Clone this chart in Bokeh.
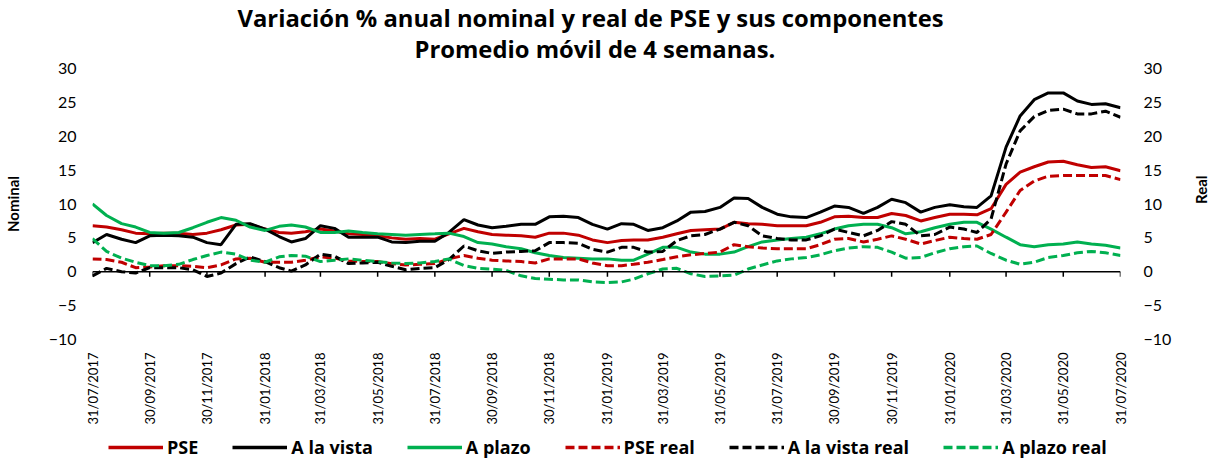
import pandas as pd
from bokeh.plotting import figure
from bokeh.layouts import column
from bokeh.models import (Range1d, LinearAxis, FixedTicker, Span, Legend,
                          LegendItem, ColumnDataSource, Title)
from bokeh.embed import file_html
from bokeh.resources import INLINE

# ---------------- data (semi-monthly readings, 31/07/2017 .. 31/07/2020) -------------
tick_labels = ["31/07/2017", "30/09/2017", "30/11/2017", "31/01/2018", "31/03/2018",
               "31/05/2018", "31/07/2018", "30/09/2018", "30/11/2018", "31/01/2019",
               "31/03/2019", "31/05/2019", "31/07/2019", "30/09/2019", "30/11/2019",
               "31/01/2020", "31/03/2020", "31/05/2020", "31/07/2020"]

month_ends = pd.date_range("2017-07-31", "2020-07-31", freq="ME")
mid_months = pd.date_range("2017-08-01", "2020-07-01", freq="MS") + pd.Timedelta(days=14)
dates = month_ends.append(mid_months).sort_values()

pse = [6.8, 6.6, 6.2, 5.7, 5.6, 5.7, 5.7, 5.5, 5.7, 6.2, 6.9, 7.0, 6.3,
       5.8, 5.7, 5.9, 6.3, 6.0, 5.6, 5.5, 5.3, 5.0, 4.8, 4.9, 4.8,
       5.6, 6.4, 5.9, 5.5, 5.4, 5.3, 5.1, 5.7, 5.7, 5.4, 4.7, 4.3,
       4.6, 4.7, 4.7, 5.1, 5.6, 6.1, 6.2, 6.3, 7.3, 7.1, 7.0, 6.8,
       6.8, 6.8, 7.3, 8.1, 8.2, 8.0, 8.0, 8.6, 8.3, 7.5, 8.0, 8.5,
       8.5, 8.4, 9.3, 12.9, 14.7, 15.5, 16.2, 16.3, 15.8, 15.4, 15.5, 14.9]

a_la_vista = [4.3, 5.5, 4.8, 4.3, 5.3, 5.4, 5.3, 5.1, 4.3, 4.0, 7.0, 7.1, 6.3,
              5.2, 4.4, 4.9, 6.8, 6.4, 5.1, 5.1, 5.1, 4.4, 4.3, 4.5, 4.5,
              5.8, 7.7, 6.9, 6.5, 6.7, 7.0, 7.0, 8.1, 8.2, 8.0, 7.0, 6.3,
              7.1, 7.0, 6.1, 6.5, 7.5, 8.8, 8.9, 9.5, 10.9, 10.8, 9.5, 8.5,
              8.1, 8.0, 8.8, 9.7, 9.5, 8.6, 9.5, 10.7, 10.2, 8.8, 9.5, 9.9,
              9.6, 9.5, 11.2, 18.4, 23.0, 25.4, 26.4, 26.4, 25.2, 24.7, 24.8, 24.2]

a_plazo = [10.0, 8.3, 7.1, 6.6, 5.8, 5.7, 5.8, 6.5, 7.3, 8.0, 7.6, 6.6, 6.1,
           6.7, 6.9, 6.6, 5.8, 5.8, 6.0, 5.8, 5.6, 5.5, 5.4, 5.5, 5.6,
           5.7, 5.2, 4.3, 4.1, 3.7, 3.4, 2.8, 2.4, 2.1, 2.0, 1.9, 1.9,
           1.7, 1.7, 2.6, 3.6, 3.6, 2.9, 2.6, 2.6, 2.9, 3.7, 4.4, 4.7,
           4.9, 5.1, 5.6, 6.3, 6.8, 7.0, 7.0, 6.5, 5.6, 5.9, 6.5, 7.0,
           7.3, 7.3, 6.3, 5.1, 4.0, 3.7, 4.0, 4.1, 4.4, 4.1, 3.9, 3.5]

pse_real = [1.9, 1.8, 1.4, 0.6, 0.7, 0.9, 0.9, 0.8, 0.6, 1.0, 1.9, 2.0, 1.4,
            1.4, 1.4, 1.7, 2.2, 2.0, 1.6, 1.5, 1.5, 1.2, 1.0, 1.1, 1.2,
            1.9, 2.4, 2.0, 1.7, 1.6, 1.5, 1.3, 1.9, 1.9, 1.9, 1.3, 0.9,
            0.9, 1.1, 1.4, 1.8, 2.2, 2.5, 2.7, 2.9, 4.0, 3.7, 3.5, 3.4,
            3.4, 3.4, 4.0, 4.8, 4.9, 4.4, 4.8, 5.3, 4.8, 4.1, 4.6, 5.1,
            4.9, 4.8, 5.5, 8.8, 12.0, 13.4, 14.1, 14.2, 14.2, 14.2, 14.2, 13.6]

a_la_vista_real = [-0.6, 0.5, 0.0, -0.2, 0.6, 0.6, 0.6, 0.3, -0.7, -0.2, 1.2, 2.2, 1.5,
                   0.6, 0.1, 1.0, 2.6, 2.3, 1.2, 1.3, 1.4, 0.8, 0.3, 0.5, 0.6,
                   1.8, 3.8, 3.1, 2.7, 2.9, 3.0, 3.1, 4.3, 4.3, 4.2, 3.3, 2.9,
                   3.6, 3.6, 2.9, 3.0, 4.6, 5.3, 5.5, 6.3, 7.3, 6.8, 5.3, 4.9,
                   4.7, 4.7, 5.3, 6.3, 5.8, 5.3, 6.1, 7.4, 7.0, 5.3, 5.5, 6.6,
                   6.3, 5.8, 7.8, 15.9, 20.8, 22.9, 23.8, 24.0, 23.3, 23.3, 23.7, 22.8]

a_plazo_real = [4.9, 3.0, 2.0, 1.4, 0.9, 0.9, 1.1, 1.8, 2.4, 2.9, 2.6, 1.7, 1.4,
                2.2, 2.4, 2.3, 1.5, 1.7, 1.9, 1.7, 1.5, 1.3, 1.2, 1.3, 1.5,
                1.9, 0.9, 0.5, 0.4, 0.2, -0.6, -1.0, -1.1, -1.2, -1.2, -1.5, -1.6,
                -1.5, -1.1, -0.3, 0.4, 0.5, -0.3, -0.7, -0.6, -0.5, 0.4, 1.0, 1.6,
                1.9, 2.1, 2.5, 3.1, 3.5, 3.7, 3.6, 2.9, 2.0, 2.1, 2.8, 3.4,
                3.7, 3.8, 2.7, 1.7, 1.1, 1.4, 2.1, 2.4, 2.8, 3.0, 2.8, 2.4]

y_ticks = [-10, -5, 0, 5, 10, 15, 20, 25, 30]

series_labels = ["PSE", "A la vista", "A plazo", "PSE real", "A la vista real", "A plazo real"]
title_line1 = "Variación % anual nominal y real de PSE y sus componentes"
title_line2 = "Promedio móvil de 4 semanas."

# ---------------- styling -------------
RED, BLACK, GREEN = "#C00000", "#000000", "#00B050"
FONT = "Lato"
TFONT = "Open Sans"
DASH = "9 4"
LW = 3

src = ColumnDataSource(dict(date=dates, pse=pse, vista=a_la_vista, plazo=a_plazo,
                            pse_r=pse_real, vista_r=a_la_vista_real, plazo_r=a_plazo_real))

tick_dates = pd.to_datetime(tick_labels, format="%d/%m/%Y")
tick_ms = [float(d.value // 10**6) for d in tick_dates]

p = figure(width=1222, height=436,
           x_axis_type="datetime",
           output_backend="svg", toolbar_location=None,
           x_range=Range1d(dates[0], dates[-1]), y_range=Range1d(-10, 30),
           min_border_left=92, min_border_right=101, min_border_top=68,
           min_border_bottom=97)
p.extra_y_ranges = {"real": Range1d(-10, 30)}

# top line is the figure title; the second line is added closer to the frame
p.title.text = title_line1
p.title.align = "left"
p.title.offset = 145
p.title.standoff = -12
p.title.text_font = TFONT
p.title.text_font_size = "23.8px"
p.title.text_font_style = "bold"
p.title.text_color = "black"
p.add_layout(Title(text=title_line2, align="left", offset=322, standoff=7,
                   text_font=TFONT, text_font_size="23.8px", text_font_style="bold",
                   text_color="black"), "above")

p.outline_line_color = None
p.xgrid.grid_line_color = None
p.ygrid.grid_line_color = None
p.background_fill_color = "white"
p.border_fill_color = "white"

# x axis (labels only; axis line drawn at y=0)
xa = p.xaxis[0]
xa.axis_label = None
xa.ticker = FixedTicker(ticks=tick_ms)
xa.major_label_overrides = {t: l for t, l in zip(tick_ms, tick_labels)}
xa.major_label_orientation = 3.14159265 / 2
xa.axis_line_color = None
xa.major_tick_line_color = None
xa.minor_tick_line_color = None
xa.major_tick_out = 0
xa.major_tick_in = 0
xa.minor_tick_out = 0
xa.major_label_standoff = 13
xa.major_label_text_font = FONT
xa.major_label_text_font_size = "13px"
xa.major_label_text_color = "black"

# left axis
ya = p.yaxis[0]
ya.ticker = FixedTicker(ticks=y_ticks)
ya.axis_line_color = None
ya.major_tick_line_color = None
ya.minor_tick_line_color = None
ya.major_tick_out = 0
ya.major_tick_in = 0
ya.minor_tick_out = 0
ya.major_label_standoff = 16
ya.major_label_text_font = FONT
ya.major_label_text_font_size = "16px"
ya.major_label_text_color = "black"
ya.axis_label = "Nominal"
ya.axis_label_text_font = FONT
ya.axis_label_text_font_style = "bold"
ya.axis_label_text_font_size = "15px"
ya.axis_label_text_color = "black"
ya.axis_label_standoff = 24

# right axis
ra = LinearAxis(y_range_name="real", ticker=FixedTicker(ticks=y_ticks),
                axis_label="Real")
ra.axis_line_color = None
ra.major_tick_line_color = None
ra.minor_tick_line_color = None
ra.major_tick_out = 0
ra.major_tick_in = 0
ra.minor_tick_out = 0
ra.major_label_standoff = 23
ra.major_label_text_font = FONT
ra.major_label_text_font_size = "16px"
ra.major_label_text_color = "black"
ra.axis_label_text_font = FONT
ra.axis_label_text_font_style = "bold"
ra.axis_label_text_font_size = "15px"
ra.axis_label_text_color = "black"
ra.axis_label_standoff = 27
ra.axis_label_orientation = 1.5707963
p.add_layout(ra, "right")

# zero line acting as category axis, with tick marks
p.add_layout(Span(location=0, dimension="width", line_color="black", line_width=1.5))
p.segment(x0=tick_dates, y0=0, x1=tick_dates, y1=-0.75, line_color="black", line_width=1.5)

p.line("date", "pse", source=src, color=RED, line_width=LW)
p.line("date", "vista", source=src, color=BLACK, line_width=LW)
p.line("date", "plazo", source=src, color=GREEN, line_width=LW)
p.line("date", "pse_r", source=src, color=RED, line_width=LW,
       line_dash=DASH, y_range_name="real")
p.line("date", "vista_r", source=src, color=BLACK, line_width=LW,
       line_dash=DASH, y_range_name="real")
p.line("date", "plazo_r", source=src, color=GREEN, line_width=LW,
       line_dash=DASH, y_range_name="real")

# ---------------- legend strip below the chart -------------
lg = figure(width=1222, height=24, output_backend="svg", toolbar_location=None,
            x_range=Range1d(0, 1), y_range=Range1d(0, 1),
            x_axis_location=None, y_axis_location=None, min_border=0)
lg.outline_line_color = None
lg.grid.visible = False
lg.background_fill_color = "white"
lg.border_fill_color = "white"

styles = [(RED, "solid"), (BLACK, "solid"), (GREEN, "solid"),
          (RED, DASH), (BLACK, DASH), (GREEN, DASH)]
items = []
for lab, (col, dash) in zip(series_labels, styles):
    # legend-only renderer: its points lie outside the strip's visible range
    r = lg.line(x=[5, 6], y=[5, 6], color=col, line_width=3.5, line_dash=dash)
    items.append(LegendItem(label=lab, renderers=[r]))

legend = Legend(items=items, orientation="horizontal", location=(16, 1))
legend.padding = 0
legend.margin = 0
legend.spacing = 34
legend.glyph_width = 55
legend.glyph_height = 20
legend.label_height = 20
legend.label_standoff = 4
legend.label_text_font = TFONT
legend.label_text_font_style = "bold"
legend.label_text_font_size = "18px"
legend.label_text_color = "black"
legend.border_line_color = None
legend.background_fill_alpha = 0
lg.add_layout(legend, "center")

layout = column(p, lg, spacing=0)
open("out.html", "w").write(file_html(layout, INLINE))
